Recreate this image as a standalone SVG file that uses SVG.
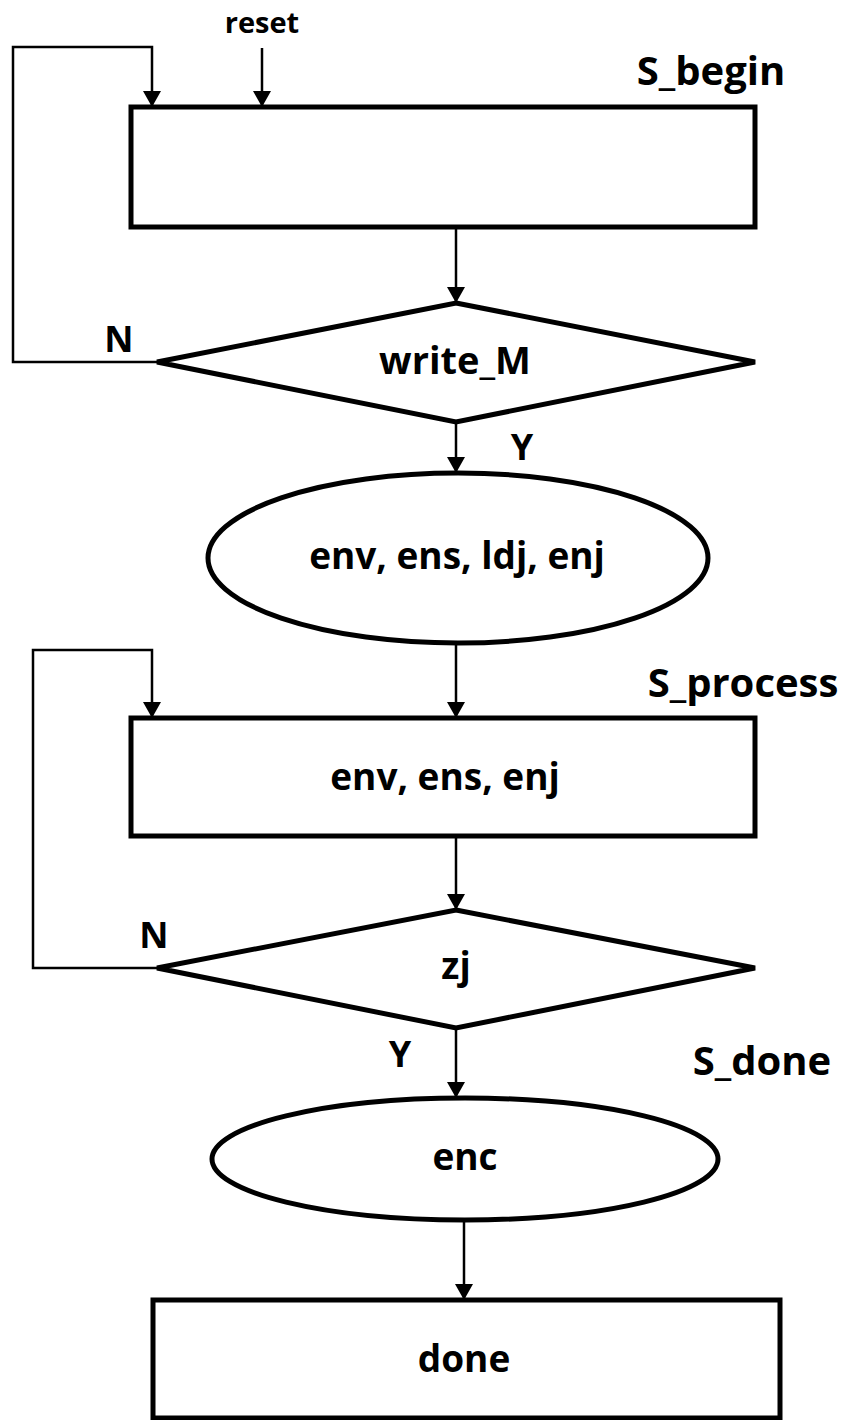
<svg xmlns="http://www.w3.org/2000/svg" width="849" height="1420" viewBox="0 0 849 1420">
<style>
.shape{fill:#fff;stroke:#000;stroke-width:5}
.conn{fill:none;stroke:#000;stroke-width:2.5}
.t{font-family:"Open Sans","Liberation Sans",sans-serif;font-weight:bold;fill:#000;text-anchor:middle}
.m{font-size:37px}
.s{font-size:40px}
</style>
<defs>
<marker id="arr" markerWidth="18" markerHeight="18" refX="15" refY="9" orient="auto" markerUnits="userSpaceOnUse">
<path d="M0,0 L16,9 L0,18 Z" fill="#000"/>
</marker>
</defs>
<rect width="849" height="1420" fill="#fff"/>
<g id="connectors">
<path class="conn" d="M262,48 V106" marker-end="url(#arr)"/>
<path class="conn" d="M157,362 H13 V47 H152 V106" marker-end="url(#arr)"/>
<path class="conn" d="M456,228 V302" marker-end="url(#arr)"/>
<path class="conn" d="M456,423 V472" marker-end="url(#arr)"/>
<path class="conn" d="M456,644 V717" marker-end="url(#arr)"/>
<path class="conn" d="M157,968 H33 V650 H152 V717" marker-end="url(#arr)"/>
<path class="conn" d="M456,837 V909" marker-end="url(#arr)"/>
<path class="conn" d="M456,1029 V1097" marker-end="url(#arr)"/>
<path class="conn" d="M464,1221 V1299" marker-end="url(#arr)"/>
</g>
<g id="label-reset"><text class="t" x="262" y="33" font-size="29">reset</text></g>
<g id="S_begin">
<rect class="shape" x="131" y="107" width="624" height="120"/>
<text class="t s" x="711" y="85">S_begin</text>
</g>
<g id="write_M">
<polygon class="shape" points="456,303 755,362 456,422 157,362"/>
<text class="t" x="455" y="374" font-size="38">write_M</text>
<text class="t" x="119" y="352" font-size="36">N</text>
<text class="t" x="522" y="460" font-size="36">Y</text>
</g>
<g id="ellipse1">
<ellipse class="shape" cx="458" cy="558" rx="250" ry="85"/>
<text class="t m" x="457" y="569">env, ens, ldj, enj</text>
</g>
<g id="S_process">
<rect class="shape" x="131" y="718" width="624" height="118"/>
<text class="t m" x="445" y="790">env, ens, enj</text>
<text class="t s" x="743" y="697">S_process</text>
</g>
<g id="zj">
<polygon class="shape" points="456,910 755,968 456,1028 157,968"/>
<text class="t m" x="456" y="979">zj</text>
<text class="t" x="154" y="948" font-size="36">N</text>
<text class="t" x="400" y="1067" font-size="36">Y</text>
<text class="t s" x="762" y="1075">S_done</text>
</g>
<g id="enc">
<ellipse class="shape" cx="465" cy="1159" rx="253" ry="61"/>
<text class="t m" x="465" y="1170">enc</text>
</g>
<g id="done">
<rect class="shape" x="153" y="1300" width="627" height="118"/>
<text class="t m" x="464" y="1372">done</text>
</g>
</svg>
